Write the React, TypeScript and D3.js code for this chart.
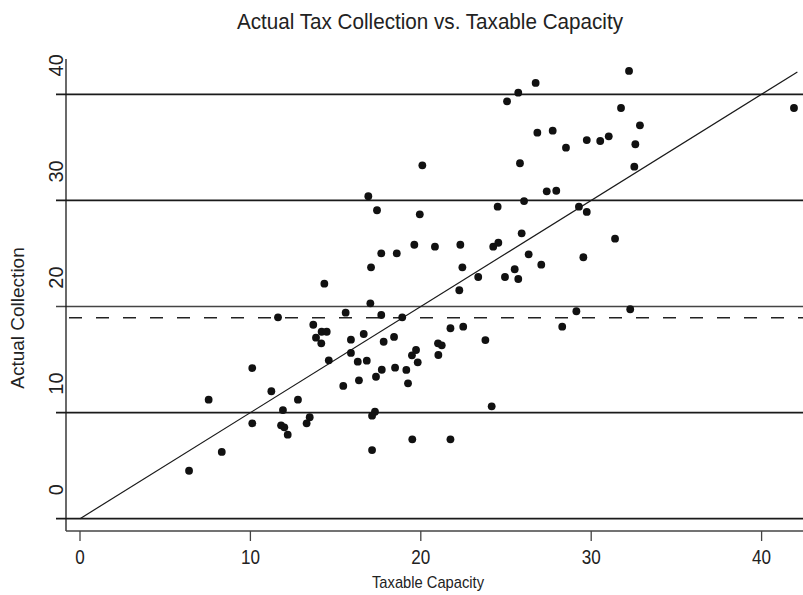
import React, { useEffect, useRef } from 'react';
import * as d3 from 'd3';

// values
const taxableCapacity = [
  20.09, 16.92, 17.43, 19.94, 32.22, 26.74, 25.72, 25.06, 31.75, 41.9,
  32.86, 26.84, 27.74, 28.52, 29.74, 30.53, 31.03, 32.59, 25.82, 32.53,
  27.39, 27.95, 24.51, 26.06, 29.28, 29.74, 25.92, 31.4, 19.62, 20.83,
  22.32, 17.68, 18.59, 17.08, 22.44, 14.34, 22.26, 17.04, 15.59, 17.68,
  18.91, 11.62, 13.69, 14.18, 14.48, 16.65, 13.85, 14.16, 15.9, 17.82,
  18.43, 21.74, 22.49, 21.01, 21.23, 19.72, 19.48, 21.03, 19.82, 15.9,
  14.6, 16.3, 16.83, 17.71, 18.49, 19.15, 19.25, 17.37, 16.37, 15.45,
  10.11, 11.23, 7.55, 12.79, 11.91, 17.31, 17.14, 10.11, 11.8, 11.99,
  12.19, 13.48, 13.3, 19.5, 21.74, 8.32, 17.14, 6.4, 24.25, 24.55,
  26.33, 27.07, 29.54, 25.51, 23.37, 24.94, 25.72, 29.13, 32.29, 28.3,
  23.79, 24.16,
];
const actualCollection = [
  33.31, 30.39, 29.07, 28.69, 42.2, 41.07, 40.15, 39.34, 38.71, 38.71,
  37.08, 36.38, 36.57, 34.97, 35.69, 35.6, 36.04, 35.29, 33.5, 33.18,
  30.86, 30.91, 29.41, 29.94, 29.41, 28.91, 26.9, 26.39, 25.82, 25.64,
  25.82, 25.01, 25.01, 23.69, 23.69, 22.15, 21.53, 20.3, 19.42, 19.2,
  18.98, 18.98, 18.28, 17.62, 17.62, 17.41, 17.06, 16.53, 16.87, 16.68,
  17.13, 17.95, 18.1, 16.53, 16.34, 15.9, 15.4, 15.43, 14.74, 15.62,
  14.93, 14.8, 14.89, 14.04, 14.23, 14.02, 12.76, 13.38, 13.04, 12.51,
  14.2, 12.01, 11.22, 11.22, 10.24, 10.08, 9.71, 8.99, 8.8, 8.61,
  7.92, 9.56, 8.99, 7.48, 7.48, 6.29, 6.47, 4.52, 25.64, 26.01,
  24.92, 23.94, 24.64, 23.51, 22.78, 22.78, 22.59, 19.55, 19.74, 18.1,
  16.84, 10.59,
];
const xTicks = [0, 10, 20, 30, 40];
const yTicks = [0, 10, 20, 30, 40];
const meanLine = 18.94;
const fitEnd = 42.1;

const App = () => {
  const ref = useRef<SVGSVGElement>(null);

  useEffect(() => {
    const svg = d3.select(ref.current);
    svg.selectAll('*').remove();

    const width = 803, height = 595;
    const left = 66, top = 59, bottom = 531;
    const font = 'Liberation Sans, Arial, sans-serif';

    const x = d3.scaleLinear().domain([0, 40]).range([80, 761.6]);
    const y = d3.scaleLinear().domain([0, 40]).range([518.7, 94.3]);

    svg.append('rect').attr('width', width).attr('height', height).attr('fill', '#fff');

    // title
    svg.append('text')
      .attr('x', 430).attr('y', 29)
      .attr('text-anchor', 'middle')
      .attr('font-family', font).attr('font-size', 22)
      .attr('textLength', 386).attr('lengthAdjust', 'spacingAndGlyphs')
      .attr('fill', '#222')
      .text('Actual Tax Collection vs. Taxable Capacity');

    // horizontal grid lines (they run past the axis like ticks)
    svg.append('g').selectAll('line')
      .data(yTicks)
      .join('line')
        .attr('x1', left - 10).attr('x2', width)
        .attr('y1', d => y(d)).attr('y2', d => y(d))
        .attr('stroke', d => d === 20 ? '#444' : '#1a1a1a')
        .attr('stroke-width', d => d === 20 ? 1.3 : 1.7);

    // dashed reference line
    svg.append('line')
      .attr('x1', left).attr('x2', width)
      .attr('y1', y(meanLine)).attr('y2', y(meanLine))
      .attr('stroke', '#222').attr('stroke-width', 1.3)
      .attr('stroke-dasharray', '13,14')
      .attr('stroke-dashoffset', -3);

    // 45 degree line
    svg.append('line')
      .attr('x1', x(0)).attr('y1', y(0))
      .attr('x2', x(fitEnd)).attr('y2', y(fitEnd))
      .attr('stroke', '#1a1a1a').attr('stroke-width', 1.2);

    // axes
    svg.append('line')
      .attr('x1', left).attr('x2', left).attr('y1', top).attr('y2', bottom)
      .attr('stroke', '#1a1a1a').attr('stroke-width', 1.3);
    svg.append('line')
      .attr('x1', left).attr('x2', width).attr('y1', bottom).attr('y2', bottom)
      .attr('stroke', '#444').attr('stroke-width', 1.3);

    svg.append('g').selectAll('line')
      .data(xTicks)
      .join('line')
        .attr('x1', d => x(d)).attr('x2', d => x(d))
        .attr('y1', bottom).attr('y2', bottom + 10)
        .attr('stroke', '#444').attr('stroke-width', 1.3);

    svg.append('g').selectAll('text')
      .data(xTicks)
      .join('text')
        .attr('x', d => x(d)).attr('y', 564)
        .attr('text-anchor', 'middle')
        .attr('font-family', font).attr('font-size', 20)
        .attr('textLength', d => String(d).length * 9.5)
        .attr('lengthAdjust', 'spacingAndGlyphs')
        .attr('fill', '#222')
        .text(d => d);

    svg.append('g').selectAll('text')
      .data(yTicks)
      .join('text')
        .attr('transform', d => `translate(63,${y(d) - 29}) rotate(-90)`)
        .attr('text-anchor', 'middle')
        .attr('font-family', font).attr('font-size', 20)
        .attr('fill', '#222')
        .text(d => d);

    // axis titles
    svg.append('text')
      .attr('x', 428).attr('y', 588)
      .attr('text-anchor', 'middle')
      .attr('font-family', font).attr('font-size', 17)
      .attr('textLength', 112).attr('lengthAdjust', 'spacingAndGlyphs')
      .attr('fill', '#222')
      .text('Taxable Capacity');

    svg.append('text')
      .attr('transform', `translate(24,318) rotate(-90)`)
      .attr('text-anchor', 'middle')
      .attr('font-family', font).attr('font-size', 19)
      .attr('fill', '#222')
      .text('Actual Collection');

    // points
    const points = taxableCapacity.map((d, i) => [d, actualCollection[i]]);
    svg.append('g').selectAll('circle')
      .data(points)
      .join('circle')
        .attr('cx', d => x(d[0]))
        .attr('cy', d => y(d[1]))
        .attr('r', 3.9)
        .attr('fill', '#111');
  }, []);

  return (
    <svg ref={ref} width={803} height={595}
      style={{ position: 'absolute', left: 0, top: 0, display: 'block' }}></svg>
  );
};

export default App;
